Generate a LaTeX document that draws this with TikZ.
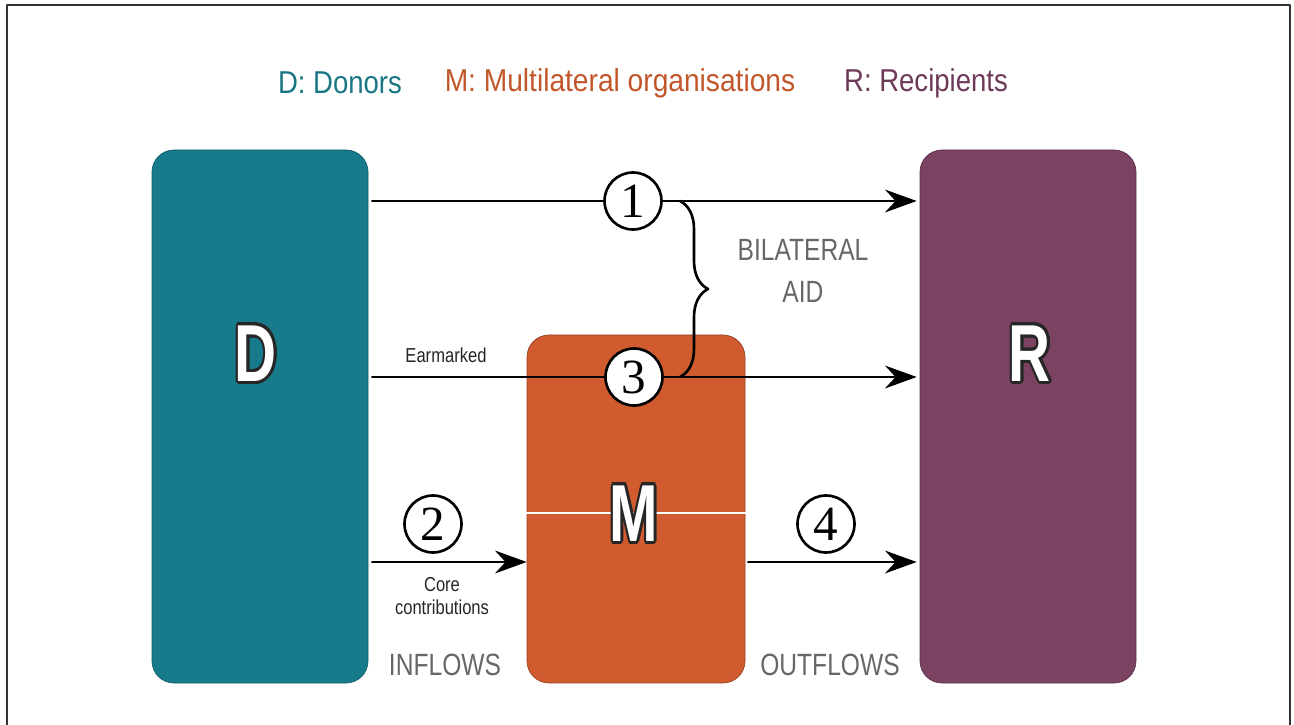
\documentclass[tikz,border=0pt]{standalone}
\usepackage{fontspec}
\setmainfont{Liberation Sans}
\newfontfamily\numfont{Liberation Serif}
\usepackage{contour}
\contourlength{1.8pt}
\usetikzlibrary{arrows.meta,decorations.pathreplacing}
\definecolor{donor}{HTML}{177B8C}
\definecolor{multi}{HTML}{CF5B2F}
\definecolor{recip}{HTML}{7B4262}
\definecolor{donortxt}{HTML}{1A7683}
\definecolor{multitxt}{HTML}{C2562B}
\definecolor{reciptxt}{HTML}{6E3A5A}
\definecolor{flowgray}{HTML}{676767}
\newcommand{\narrow}[2][0.8]{\scalebox{#1}[1]{#2}}

\begin{document}
\begin{tikzpicture}[line join=round, line cap=round, >={Stealth[length=18pt,width=13pt,inset=6pt]}]
	\tikzset{box/.style={rounded corners=0.44cm, minimum width=4.32cm, inner sep=0pt, draw=#1!75!black, fill=#1},
		num/.style={circle, draw, line width=1.5pt, fill=white, minimum size=1.14cm, inner sep=0pt, font=\numfont\fontsize{28}{28}\selectfont},
		flow/.style={line width=1.7pt},
		big/.style={text=white, font=\bfseries\fontsize{46}{46}\selectfont},
		key/.style={font=\fontsize{18}{18}\selectfont},
		caps/.style={text=flowgray, font=\fontsize{17.5}{24}\selectfont, align=center},
		small/.style={text=black!85, font=\fontsize{11.5}{13}\selectfont, align=center}}
	\useasboundingbox (0,0) rectangle (25.88,-14.5);
	\draw[black!80, line width=0.8pt] (0.14,-14.5) -- (0.14,-0.1) -- (25.8,-0.1) -- (25.8,-14.5);
	% key line
	\node[key, text=donortxt] (kD) at (6.8,-1.66) {\narrow[0.87]{D: Donors}};
	\node[key, text=multitxt] (kM) at (12.4,-1.66) {\narrow[0.89]{M: Multilateral organisations}};
	\node[key, text=reciptxt] (kR) at (18.52,-1.66) {\narrow[0.87]{R: Recipients}};
	% the three actors
	\node[box=donor, minimum height=10.66cm] (D) at (5.2,-8.33) {};
	\node[box=multi, minimum height=6.96cm, minimum width=4.36cm] (M) at (12.72,-10.18) {};
	\node[box=recip, minimum height=10.66cm] (R) at (20.56,-8.33) {};
	\coordinate (mid) at (12.72,-10.26);
	\draw[white, line width=1pt] (M.west |- mid) -- (M.east |- mid);
	\node[big] (lD) at (5.12,-7.1) {\narrow[0.72]{\contour{black!85}{D}}};
	\node[big] (lM) at (12.68,-10.3) {\narrow[0.72]{\contour{black!85}{M}}};
	\node[big] (lR) at (20.6,-7.1) {\narrow[0.72]{\contour{black!85}{R}}};
	% flows
	\node[num] (c1) at (12.66,-4.02) {1};
	\node[num] (c3) at (12.68,-7.54) {3};
	\node[num] (c2) at (8.66,-10.48) {2};
	\node[num] (c4) at (16.52,-10.48) {4};
	\coordinate (lo) at (0,-11.24);
	\draw[flow, shorten <=0.08cm] (D.east |- c1) -- (c1);
	\draw[flow, ->, shorten >=0.06cm] (c1) -- (R.west |- c1);
	\draw[flow, shorten <=0.08cm] (D.east |- c3) -- (c3);
	\draw[flow, ->, shorten >=0.06cm] (c3) -- (R.west |- c3);
	\draw[flow, ->, shorten <=0.08cm] (D.east |- lo) -- (M.west |- lo);
	\draw[flow, ->, shorten <=0.06cm, shorten >=0.06cm] (M.east |- lo) -- (R.west |- lo);
	\draw[line width=1.5pt, decorate, decoration={brace, amplitude=0.56cm}] (13.6,-4.02) -- (13.6,-7.54);
	% labels
	\node[small] (ear) at (8.92,-7.1) {\narrow[0.82]{Earmarked}};
	\node[small] (core) at (8.84,-11.92) {\narrow[0.82]{Core}\\\narrow[0.82]{contributions}};
	\node[caps] (bil) at (16.06,-5.42) {\narrow{BILATERAL}\\\narrow{AID}};
	\node[caps] (inf) at (8.9,-13.3) {\narrow{INFLOWS}};
	\node[caps] (outf) at (16.6,-13.3) {\narrow{OUTFLOWS}};
\end{tikzpicture}
\end{document}
